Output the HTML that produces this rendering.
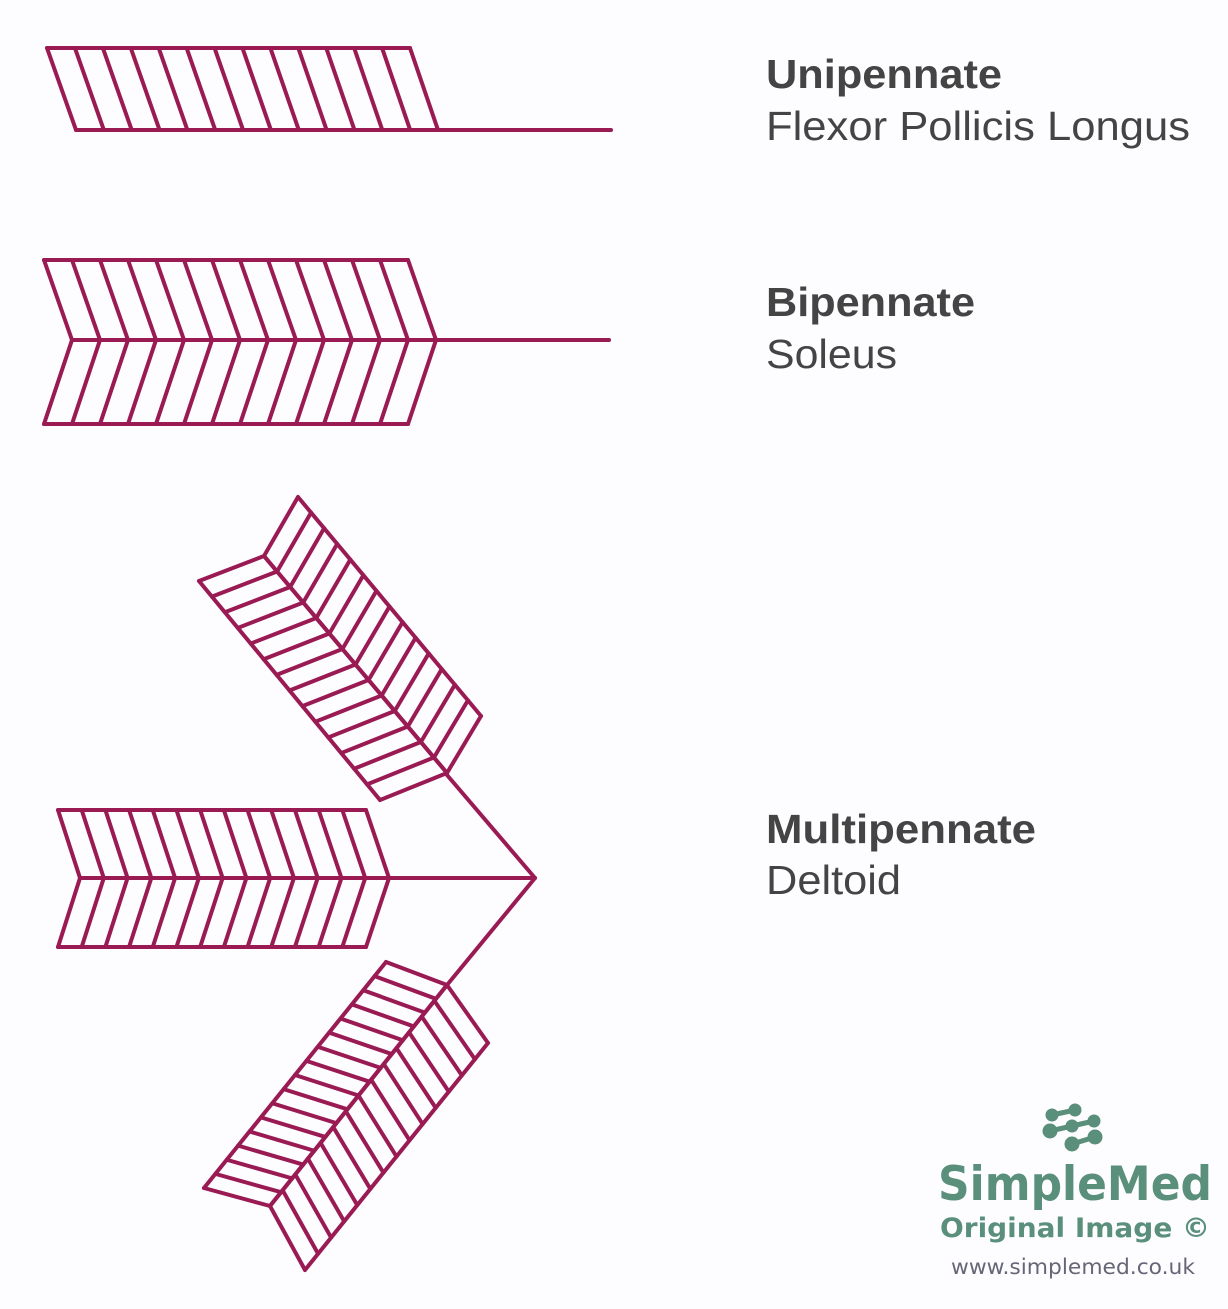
<!DOCTYPE html>
<html><head><meta charset="utf-8"><style>
html,body{margin:0;padding:0;background:#fdfcfe;}
svg{display:block}
</style></head><body>
<svg id="s" width="1228" height="1309" viewBox="0 0 1228 1309" xmlns="http://www.w3.org/2000/svg">
<rect width="1228" height="1309" fill="#fdfcfe"/>
<g id="g" stroke="#9a1b54" stroke-width="4" stroke-linecap="round" fill="none"></g>
<g font-family="Liberation Sans, sans-serif" fill="#444" font-size="41">
<text x="766" y="88" font-weight="bold" textLength="236" lengthAdjust="spacingAndGlyphs">Unipennate</text>
<text x="766" y="140" textLength="424" lengthAdjust="spacingAndGlyphs">Flexor Pollicis Longus</text>
<text x="766" y="316" font-weight="bold" textLength="209" lengthAdjust="spacingAndGlyphs">Bipennate</text>
<text x="766" y="368" textLength="131" lengthAdjust="spacingAndGlyphs">Soleus</text>
<text x="766" y="843" font-weight="bold" textLength="270" lengthAdjust="spacingAndGlyphs">Multipennate</text>
<text x="766" y="894" textLength="135" lengthAdjust="spacingAndGlyphs">Deltoid</text>
</g>
<g fill="#5a8f7b" stroke="#5a8f7b">
<g stroke-width="5"><line x1="1052" y1="1115" x2="1075" y2="1110"/><line x1="1050" y1="1131" x2="1072" y2="1126"/><line x1="1072" y1="1126" x2="1094" y2="1121"/><line x1="1072" y1="1144" x2="1095" y2="1137"/></g>
<circle cx="1052" cy="1115" r="6"/><circle cx="1075" cy="1110" r="6"/><circle cx="1050" cy="1131" r="7"/><circle cx="1072" cy="1126" r="6"/><circle cx="1094" cy="1121" r="6"/><circle cx="1072" cy="1144" r="7"/><circle cx="1095" cy="1137" r="7"/>
</g>
<g font-family="DejaVu Sans, Liberation Sans, sans-serif" fill="#5a8f7b" text-anchor="middle">
<text x="1075" y="1200" font-size="47" font-weight="bold" textLength="274" lengthAdjust="spacingAndGlyphs">SimpleMed</text>
<text x="1075" y="1237" font-size="27" font-weight="bold" textLength="270" lengthAdjust="spacingAndGlyphs">Original Image ©</text>
<text x="1073" y="1274" font-size="21" fill="#667" textLength="244" lengthAdjust="spacingAndGlyphs">www.simplemed.co.uk</text>
</g>
</svg>
<script>
var g=document.getElementById('g'),NS='http://www.w3.org/2000/svg';
function L(a,b,c,d){var e=document.createElementNS(NS,'line');e.setAttribute('x1',a);e.setAttribute('y1',b);e.setAttribute('x2',c);e.setAttribute('y2',d);g.appendChild(e);}
function lerp(p,q,t){return [p[0]+(q[0]-p[0])*t,p[1]+(q[1]-p[1])*t];}
function strip(A0,A1,B0,B1,n,edges){
 if(edges){L(A0[0],A0[1],A1[0],A1[1]);L(B0[0],B0[1],B1[0],B1[1]);}
 for(var i=0;i<=n;i++){var a=lerp(A0,A1,i/n),b=lerp(B0,B1,i/n);L(a[0],a[1],b[0],b[1]);}
}
strip([47,48],[410,48],[76,130],[438,130],13,true);L(438,130,611,130);
strip([44,260],[408,260],[72,340],[436,340],13,true);
strip([44,424],[408,424],[72,340],[436,340],13,true);L(436,340,609,340);
strip([58,810],[366,810],[80,878],[389,878],13,true);
strip([58,947],[366,947],[80,878],[389,878],13,true);L(389,878,535,878);
L(535,878,447,775);L(535,878,447,985);
strip([298,497],[481,716],[264,556],[447,773],14,true);
strip([199,581],[380,800],[264,556],[447,773],14,true);
strip([488,1043],[305,1270],[447,985],[270,1206],14,true);
strip([386,962],[204,1188],[447,985],[270,1206],16,true);
</script>
</body></html>
